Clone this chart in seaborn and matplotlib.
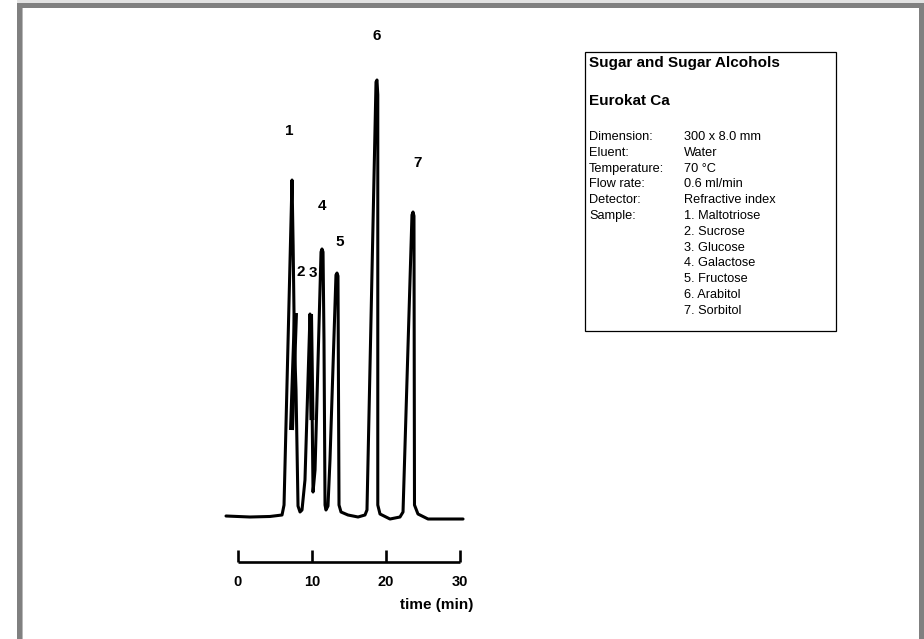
import matplotlib
matplotlib.use("Agg")
import matplotlib.pyplot as plt
from matplotlib.patches import Rectangle
import numpy as np
import pandas as pd
import seaborn as sns

# Chromatogram trace (time in min, detector signal in % of the tallest peak)
time_min = [-1.62, 1.62, 4.32, 5.95, 6.22, 7.30, 7.45, 7.62, 7.84, 8.11, 8.38, 8.65,
            9.05, 9.73, 10.00, 10.14, 10.41, 11.22, 11.35, 11.49, 11.62, 11.76,
            11.89, 12.16, 12.43, 13.24, 13.38, 13.51, 13.65, 13.92, 14.86, 16.22,
            17.16, 17.43, 18.65, 18.78, 18.89, 18.89, 19.19, 20.54, 21.89, 22.30,
            23.51, 23.65, 23.78, 23.85, 24.32, 25.68, 30.41]
signal = [0.0, -0.23, -0.11, 0.23, 2.52, 77.06, 62.0, 40.0, 28.90, 2.29, 0.92, 1.38,
          8.26, 46.33, 26.6, 5.5, 10.55, 60.55, 61.24, 60.55, 40.37, 2.52,
          1.38, 2.29, 12.84, 55.28, 55.73, 55.05, 2.52, 0.92, 0.23, -0.23,
          0.23, 1.38, 99.54, 100.0, 96.6, 2.52, 0.46, -0.69, -0.23, 0.92,
          69.04, 69.72, 68.81, 2.52, 0.46, -0.69, -0.69]

# Unresolved shoulders of peaks 2 and 3 (start/end of each band)
shoulder_time = [[7.77, 7.23], [9.80, 10.00]]
shoulder_signal = [[46.56, 19.72], [46.33, 22.0]]

# Peak numbering and apex of each peak
peak_labels = ["1", "2", "3", "4", "5", "6", "7"]
peak_time = [7.30, 7.77, 9.73, 11.35, 13.38, 18.78, 23.65]
peak_signal = [77.06, 46.56, 46.33, 61.24, 55.73, 100.0, 69.72]

# Time scale
time_ticks = [0, 10, 20, 30]
time_ticklabels = ["0", "10", "20", "30"]

# Method description
box_title = "Sugar and Sugar Alcohols"
box_column = "Eurokat Ca"
param_names = ["Dimension:", "Eluent:", "Temperature:", "Flow rate:", "Detector:", "Sample:"]
param_values = ["300 x 8.0 mm", "Water", "70 °C", "0.6 ml/min", "Refractive index"]
samples = ["1. Maltotriose", "2. Sucrose", "3. Glucose", "4. Galactose",
           "5. Fructose", "6. Arabitol", "7. Sorbitol"]

sns.set_theme(style="white")
plt.rcParams["font.family"] = ["Liberation Sans", "DejaVu Sans"]
plt.rcParams["text.color"] = "black"
plt.rcParams["xtick.color"] = "black"
plt.rcParams["axes.labelcolor"] = "black"

W, H = 924, 639
fig = plt.figure(figsize=(W / 100, H / 100), dpi=100)
fig.patch.set_facecolor("white")


def fx(px):
    return px / W


def fy(py):
    return 1 - py / H


# Page frame
fig.patches.append(Rectangle((fx(17), fy(3)), fx(W - 17), 3 / H, transform=fig.transFigure,
                             facecolor="#e2e2e2", edgecolor="none"))
for (x0, y0, x1, y1) in [(17, 3, 22, 639), (17, 3, 924, 8), (919, 3, 924, 639)]:
    fig.patches.append(Rectangle((fx(x0), fy(y1)), (x1 - x0) / W, (y1 - y0) / H,
                                 transform=fig.transFigure, facecolor="#808080",
                                 edgecolor="none"))
fig.patches.append(Rectangle((fx(22), fy(639)), 1 / W, (639 - 8) / H, transform=fig.transFigure,
                             facecolor="#b8b8b8", edgecolor="none"))

# Chromatogram axes: x from 0 to 30 min, bottom spine is the time scale
px_per_unit = 4.36
y_base = 516
ax_left, ax_right, ax_top, ax_bottom = 238, 460, 60, 562
ax = fig.add_axes([fx(ax_left), fy(ax_bottom), (ax_right - ax_left) / W, (ax_bottom - ax_top) / H])
ax.set_facecolor("none")
ax.set_xlim(0, 30)
ax.set_ylim((y_base - ax_bottom) / px_per_unit, (y_base - ax_top) / px_per_unit)

df = pd.DataFrame({"time": time_min, "signal": signal})
sns.lineplot(data=df, x="time", y="signal", sort=False, estimator=None, ax=ax,
             color="black", linewidth=2.2, clip_on=False)
for ts, ss in zip(shoulder_time, shoulder_signal):
    ax.plot(ts, ss, color="black", linewidth=3.6, solid_capstyle="butt", clip_on=False)

label_offsets = [(-3, 49), (5, 41), (3, 41), (0, 43), (3, 31), (0, 44), (5, 49)]
for lab, t, s, (dx, dy) in zip(peak_labels, peak_time, peak_signal, label_offsets):
    ax.annotate(lab, xy=(t, s), xytext=(dx * 0.72, dy * 0.72), textcoords="offset points",
                ha="center", va="center", fontsize=11, fontweight="bold",
                color="black", annotation_clip=False)

for side in ["left", "right", "top"]:
    ax.spines[side].set_visible(False)
ax.spines["bottom"].set_color("black")
ax.spines["bottom"].set_linewidth(1.9)
ax.spines["bottom"].set_capstyle("butt")
ax.set_xticks(time_ticks)
ax.set_xticklabels(time_ticklabels, fontsize=10.5, fontweight="bold", color="black")
ax.tick_params(axis="x", direction="in", length=8.5, width=1.9, color="black", pad=9,
               bottom=True)
ax.set_yticks([])
ax.set_xlabel("")
ax.set_ylabel("")
fig.text(fx(473), fy(605), "time (min)", ha="right", va="center", fontsize=11,
         fontweight="bold", color="black")

# Method box
fig.patches.append(Rectangle((fx(585), fy(331)), (836 - 585) / W, (331 - 52) / H,
                             transform=fig.transFigure, facecolor="white",
                             edgecolor="black", linewidth=0.9))
tx, vx = 589, 684
fig.text(fx(tx), fy(63), box_title, ha="left", va="center", fontsize=11,
         fontweight="bold", color="black")
fig.text(fx(tx), fy(101), box_column, ha="left", va="center", fontsize=11,
         fontweight="bold", color="black")
row0, step = 137, 15.8
for i, name in enumerate(param_names):
    fig.text(fx(tx), fy(row0 + i * step), name, ha="left", va="center", fontsize=9.2,
             color="black")
for i, val in enumerate(param_values + samples):
    fig.text(fx(vx), fy(row0 + i * step), val, ha="left", va="center", fontsize=9.2,
             color="black")

fig.savefig("out.png", dpi=100, facecolor="white")
